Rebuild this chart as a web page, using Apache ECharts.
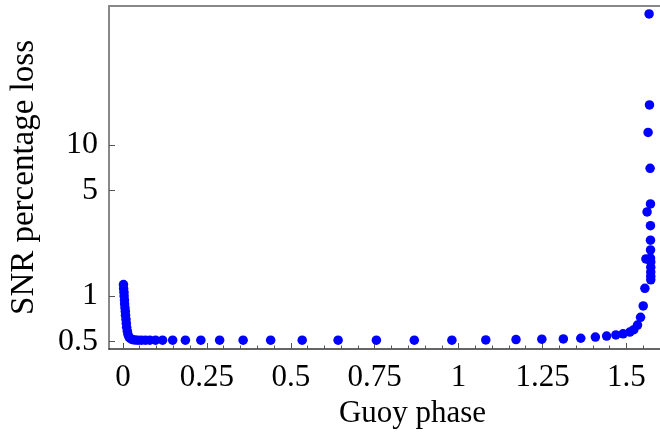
<!DOCTYPE html>
<html>
<head>
<meta charset="utf-8">
<script src="https://cdn.jsdelivr.net/npm/echarts@6/dist/echarts.min.js"></script>
<style>html,body{margin:0;padding:0;background:#fff}#c{width:660px;height:441px}</style>
</head>
<body>
<div id="c"></div>
<script>
// Guoy phase (x) and SNR percentage loss (y)
const guoyPhase = [
  0.0015,0.002,0.003,0.0035,0.0045,0.005,0.006,0.007,0.0077,0.009,0.010,0.011,0.013,0.015,0.018,0.022,0.028,0.036,0.045,0.055,0.067,0.080,0.097,
  0.118,0.148,0.186,0.232,0.288,0.358,0.440,0.534,0.641,0.755,0.868,0.980,1.081,1.171,1.248,1.312,
  1.364,1.4075,1.441,1.4685,1.490,1.510,1.522,1.533,1.542,1.550,1.555,
  1.558,1.5615,1.5645,1.5675,
  1.5725,1.5725,1.5725,1.5725,1.5725,1.5716,1.5718,1.5716,1.5716,1.5716,1.5705,1.5687
];
const snrLoss = [
  1.19,1.12,1.06,1.0,0.94,0.885,0.835,0.79,0.745,0.70,0.66,0.62,0.585,0.556,0.535,0.523,0.515,0.511,0.51,0.51,0.51,0.51,0.51,
  0.51,0.51,0.51,0.51,0.51,0.51,0.51,0.51,0.51,0.51,0.51,0.51,0.512,0.515,0.518,0.52,
  0.525,0.535,0.543,0.552,0.562,0.577,0.598,0.642,0.722,0.859,1.125,
  1.76,3.6,12.1,73.7,
  1.28,1.35,1.44,1.55,1.68,1.78,2.02,2.34,2.92,4.07,7.0,18.4
];
const xTicks = [0,0.25,0.5,0.75,1,1.25,1.5];
const xMinorTicks = [0.05,0.1,0.15,0.2,0.3,0.35,0.4,0.45,0.55,0.6,0.65,0.7,0.8,0.85,0.9,0.95,1.05,1.1,1.15,1.2,1.3,1.35,1.4,1.45,1.55];
const yTicks = [0.5,1,5,10];

const FONT = 'Liberation Serif';
const points = guoyPhase.map((x, i) => [x, snrLoss[i]]);
const xMin = -0.0416, xMax = 1.6;
const yMin = 0.4457, yMax = 83.2;

const chart = echarts.init(document.getElementById('c'), null, {renderer: 'canvas'});
chart.setOption({
  animation: false,
  grid: {left: 108, right: 0, top: 6, bottom: 92, containLabel: false},
  xAxis: [
    {
      type: 'value', min: xMin, max: xMax, position: 'bottom',
      name: 'Guoy phase', nameLocation: 'middle', nameGap: 47,
      nameTextStyle: {fontFamily: FONT, fontSize: 31, color: '#000', padding: [0, 0, 0, 56]},
      axisLine: {show: true, onZero: false, lineStyle: {color: '#333', width: 1.5}},
      axisTick: {show: true, inside: true, length: 6, customValues: xTicks, lineStyle: {color: '#555'}},
      axisLabel: {show: true, customValues: xTicks, margin: 13, fontFamily: FONT, fontSize: 31, color: '#000',
        formatter: v => String(v)},
      splitLine: {show: false}
    },
    {
      type: 'value', min: xMin, max: xMax, position: 'bottom', gridIndex: 0,
      axisLine: {show: false},
      axisTick: {show: true, inside: true, length: 3.5, customValues: xMinorTicks, lineStyle: {color: '#555'}},
      axisLabel: {show: false},
      splitLine: {show: false}
    },
    {
      type: 'value', min: xMin, max: xMax, position: 'top', gridIndex: 0,
      axisLine: {show: true, lineStyle: {color: '#888', width: 2}},
      axisTick: {show: false}, axisLabel: {show: false}, splitLine: {show: false}
    }
  ],
  yAxis: {
    type: 'log', logBase: 10, min: yMin, max: yMax,
    name: 'SNR percentage loss', nameLocation: 'middle', nameGap: 68,
    nameTextStyle: {fontFamily: FONT, fontSize: 33, color: '#000'},
    axisLine: {show: true, onZero: false, lineStyle: {color: '#888', width: 2}},
    axisTick: {show: true, inside: true, length: 6, customValues: yTicks, lineStyle: {color: '#555'}},
    axisLabel: {show: true, customValues: yTicks, margin: 11, fontFamily: FONT, fontSize: 32, color: '#000',
      formatter: v => String(v)},
    splitLine: {show: false}
  },
  series: [{
    type: 'scatter', xAxisIndex: 0, data: points,
    symbol: 'circle', symbolSize: 9.5,
    itemStyle: {color: '#0000ff', opacity: 1}
  }]
});
</script>
</body>
</html>
